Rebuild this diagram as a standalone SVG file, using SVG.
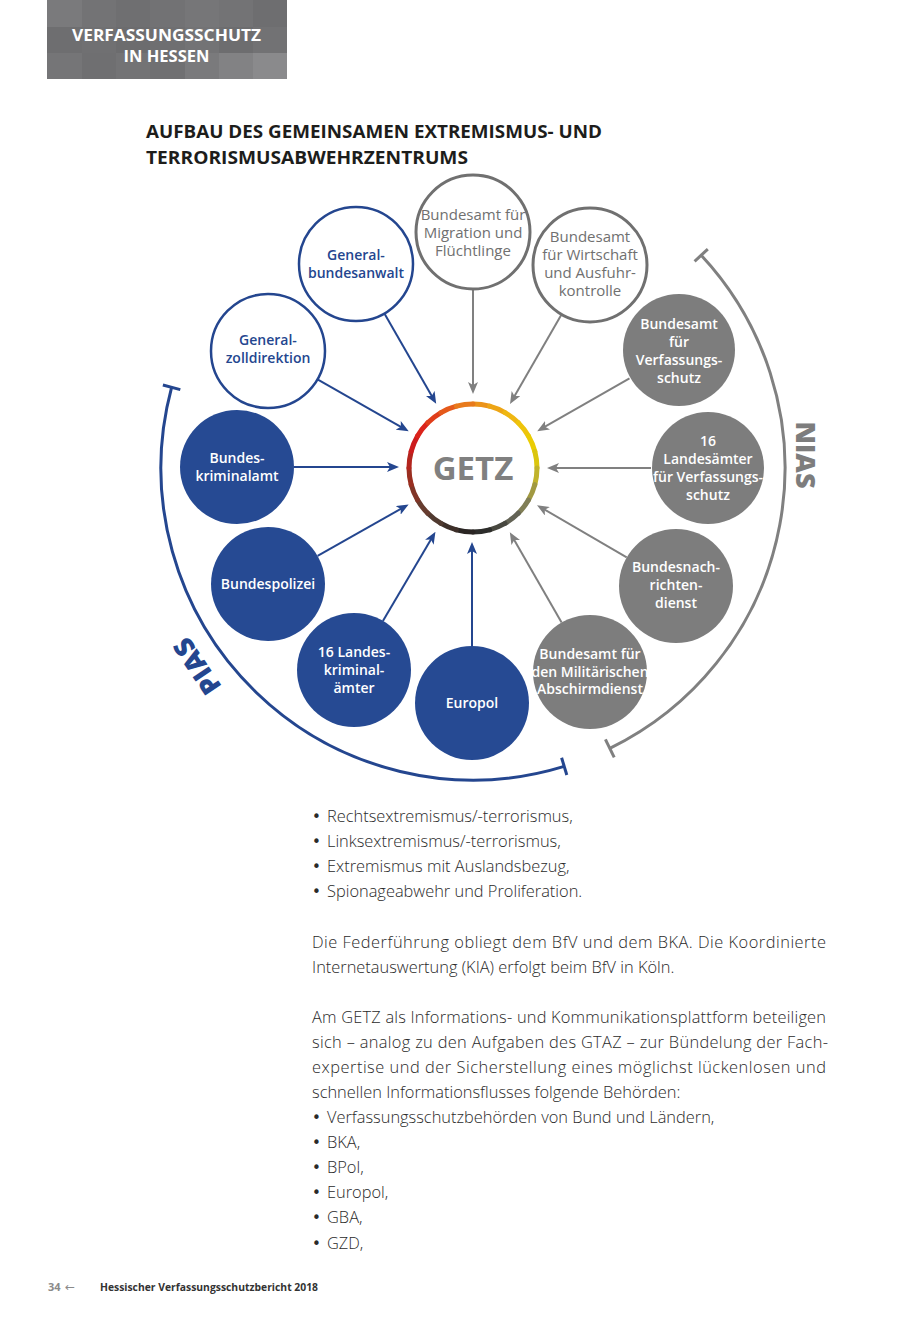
<svg xmlns="http://www.w3.org/2000/svg" width="900" height="1324" viewBox="0 0 900 1324">
<defs>
<style>
.hdr{font-family:'Open Sans','Liberation Sans',sans-serif;font-weight:700;font-size:16.5px;fill:#fff;text-anchor:middle}
.title{font-family:'Open Sans','Liberation Sans',sans-serif;font-weight:700;font-size:18.5px;fill:#1d1d1b}
.lb{font-family:'Open Sans','Liberation Sans',sans-serif;font-weight:600;font-size:14px;text-anchor:middle}
.w{fill:#fff}
.b{fill:#24468f}
.g{fill:#707070;font-weight:400;font-size:15px}
.nb{fill:#264a93}
.ng{fill:#7d7d7d}
.ob{fill:#fff;stroke:#24468f;stroke-width:2.5}
.og{fill:#fff;stroke:#707070;stroke-width:3}
.cb{stroke:#24468f;stroke-width:2;fill:none}
.cg{stroke:#808080;stroke-width:2;fill:none}
.body{font-family:'Open Sans','Liberation Sans',sans-serif;font-weight:300;font-size:16.4px;fill:#2a2a2a}
.bul{font-family:'DejaVu Sans',sans-serif;font-weight:400;font-size:15px;fill:#2a2a2a}
.foot{font-family:'Open Sans','Liberation Sans',sans-serif;font-weight:700;font-size:11px}
.ring path{fill:none;stroke-width:5;stroke-linecap:round}
</style>
<marker id="ab" markerUnits="userSpaceOnUse" markerWidth="12" markerHeight="10" refX="6" refY="5" orient="auto">
<path d="M0,0 L12,5 L0,10 L3,5 Z" fill="#24468f"/>
</marker>
<marker id="ag" markerUnits="userSpaceOnUse" markerWidth="12" markerHeight="10" refX="6" refY="5" orient="auto">
<path d="M0,0 L12,5 L0,10 L3,5 Z" fill="#808080"/>
</marker>
</defs>
<rect width="900" height="1324" fill="#fff"/>

<g id="header">
<rect x="47" y="0" width="240" height="79" fill="#737375"/>
<rect x="47" y="0" width="35" height="27" fill="#7a7a7c"/>
<rect x="82" y="0" width="34" height="27" fill="#737375"/>
<rect x="116" y="0" width="34" height="27" fill="#6f6f71"/>
<rect x="150" y="0" width="35" height="27" fill="#727274"/>
<rect x="185" y="0" width="34" height="27" fill="#767678"/>
<rect x="219" y="0" width="34" height="27" fill="#737375"/>
<rect x="253" y="0" width="34" height="27" fill="#6e6e70"/>
<rect x="47" y="27" width="35" height="26" fill="#6e6e70"/>
<rect x="82" y="27" width="34" height="26" fill="#707072"/>
<rect x="116" y="27" width="34" height="26" fill="#6c6c6e"/>
<rect x="150" y="27" width="35" height="26" fill="#6f6f71"/>
<rect x="185" y="27" width="34" height="26" fill="#737375"/>
<rect x="219" y="27" width="34" height="26" fill="#6d6d6f"/>
<rect x="253" y="27" width="34" height="26" fill="#727274"/>
<rect x="47" y="53" width="35" height="26" fill="#757577"/>
<rect x="82" y="53" width="34" height="26" fill="#6f6f71"/>
<rect x="116" y="53" width="34" height="26" fill="#737375"/>
<rect x="150" y="53" width="35" height="26" fill="#707072"/>
<rect x="185" y="53" width="34" height="26" fill="#7a7a7c"/>
<rect x="219" y="53" width="34" height="26" fill="#828284"/>
<rect x="253" y="53" width="34" height="26" fill="#8a8a8c"/>
<text class="hdr" x="166.5" y="41" textLength="189" lengthAdjust="spacingAndGlyphs">VERFASSUNGSSCHUTZ</text>
<text class="hdr" x="166.5" y="62">IN HESSEN</text>
</g>

<g id="title">
<text class="title" x="146" y="138" textLength="456" lengthAdjust="spacingAndGlyphs">AUFBAU DES GEMEINSAMEN EXTREMISMUS- UND</text>
<text class="title" x="146" y="164" textLength="322" lengthAdjust="spacingAndGlyphs">TERRORISMUSABWEHRZENTRUMS</text>
</g>

<g id="brackets">
<path d="M701.2,255.2 A312,312 0 0 1 609.8,748.4" fill="none" stroke="#808080" stroke-width="3"/>
<line x1="707.8" y1="249.1" x2="694.6" y2="261.3" stroke="#808080" stroke-width="3"/>
<line x1="614.2" y1="757.4" x2="605.4" y2="739.4" stroke="#808080" stroke-width="3"/>
<path d="M171.6,387.3 A312,312 0 0 0 564.2,766.4" fill="none" stroke="#24468f" stroke-width="3"/>
<line x1="180.3" y1="389.6" x2="162.9" y2="385.0" stroke="#24468f" stroke-width="3"/>
<line x1="566.8" y1="775" x2="561.6" y2="757.8" stroke="#24468f" stroke-width="3"/>
<text transform="translate(796,455) rotate(90)" text-anchor="middle" style="font-family:'Open Sans','Liberation Sans',sans-serif;font-weight:800;font-size:27px;fill:#7d7d7d">NIAS</text>
<text transform="translate(205,661) rotate(-124)" text-anchor="middle" style="font-family:'Open Sans','Liberation Sans',sans-serif;font-weight:800;font-size:27px;fill:#24468f">PIAS</text>
</g>

<g id="connectors">
<line class="cg" x1="473" y1="290" x2="473" y2="388" marker-end="url(#ag)"/>
<line class="cg" x1="561.5" y1="314.4" x2="513" y2="398.7" marker-end="url(#ag)"/>
<line class="cg" x1="629.5" y1="378.3" x2="542.4" y2="428.2" marker-end="url(#ag)"/>
<line class="cg" x1="651" y1="468" x2="553" y2="468" marker-end="url(#ag)"/>
<line class="cg" x1="626.7" y1="557.4" x2="542.2" y2="508.2" marker-end="url(#ag)"/>
<line class="cg" x1="561.6" y1="622.6" x2="512.8" y2="537.4" marker-end="url(#ag)"/>
<line class="cb" x1="472" y1="646" x2="472" y2="548" marker-end="url(#ab)"/>
<line class="cb" x1="382.9" y1="620.9" x2="432.4" y2="537" marker-end="url(#ab)"/>
<line class="cb" x1="317.6" y1="555.9" x2="403.4" y2="507.4" marker-end="url(#ab)"/>
<line class="cb" x1="294" y1="467" x2="393" y2="467" marker-end="url(#ab)"/>
<line class="cb" x1="317.5" y1="379.3" x2="403.5" y2="428.3" marker-end="url(#ab)"/>
<line class="cb" x1="384.4" y1="313.4" x2="433.2" y2="398.6" marker-end="url(#ab)"/>
</g>

<g id="getz">
<circle cx="473" cy="468" r="64" fill="#fff"/>
<g class="ring">
<path d="M473,404 A64,64 0 0 1 489.56,406.18" stroke="#eb931a"/>
<path d="M489.56,406.18 A64,64 0 0 1 505,412.57" stroke="#eda516"/>
<path d="M505,412.57 A64,64 0 0 1 518.25,422.75" stroke="#efb712"/>
<path d="M518.25,422.75 A64,64 0 0 1 528.43,436" stroke="#eec40c"/>
<path d="M528.43,436 A64,64 0 0 1 534.82,451.44" stroke="#eacc04"/>
<path d="M534.82,451.44 A64,64 0 0 1 537,468" stroke="#dbc60e"/>
<path d="M537,468 A64,64 0 0 1 534.82,484.56" stroke="#c0b32b"/>
<path d="M534.82,484.56 A64,64 0 0 1 528.43,500" stroke="#a19941"/>
<path d="M528.43,500 A64,64 0 0 1 518.25,513.25" stroke="#807e56"/>
<path d="M518.25,513.25 A64,64 0 0 1 505,523.43" stroke="#636355"/>
<path d="M505,523.43 A64,64 0 0 1 489.56,529.82" stroke="#484840"/>
<path d="M489.56,529.82 A64,64 0 0 1 473,532" stroke="#2d2d2b"/>
<path d="M473,532 A64,64 0 0 1 456.44,529.82" stroke="#2a2523"/>
<path d="M456.44,529.82 A64,64 0 0 1 441,523.43" stroke="#3d2f29"/>
<path d="M441,523.43 A64,64 0 0 1 427.75,513.25" stroke="#503a30"/>
<path d="M427.75,513.25 A64,64 0 0 1 417.57,500" stroke="#673c2f"/>
<path d="M417.57,500 A64,64 0 0 1 411.18,484.56" stroke="#813527"/>
<path d="M411.18,484.56 A64,64 0 0 1 409,468" stroke="#9a2e20"/>
<path d="M409,468 A64,64 0 0 1 411.18,451.44" stroke="#b3251e"/>
<path d="M411.18,451.44 A64,64 0 0 1 417.57,436" stroke="#cc1b1d"/>
<path d="M417.57,436 A64,64 0 0 1 427.75,422.75" stroke="#db231b"/>
<path d="M427.75,422.75 A64,64 0 0 1 441,412.57" stroke="#e03d1a"/>
<path d="M441,412.57 A64,64 0 0 1 456.44,406.18" stroke="#e55a1b"/>
<path d="M456.44,406.18 A64,64 0 0 1 473,404" stroke="#e87a1c"/>
</g>
<text x="473" y="480" text-anchor="middle" style="font-family:'Open Sans','Liberation Sans',sans-serif;font-weight:700;font-size:33px;fill:#808080">GETZ</text>
</g>

<g id="bamf">
<circle class="og" cx="473" cy="232" r="57"/>
<text class="lb g" x="473" y="219.5">Bundesamt für</text>
<text class="lb g" x="473" y="237.5">Migration und</text>
<text class="lb g" x="473" y="255.5">Flüchtlinge</text>
</g>
<g id="bafa">
<circle class="og" cx="590" cy="265" r="57"/>
<text class="lb g" x="590" y="242">Bundesamt</text>
<text class="lb g" x="590" y="260">für Wirtschaft</text>
<text class="lb g" x="590" y="278">und Ausfuhr-</text>
<text class="lb g" x="590" y="296">kontrolle</text>
</g>
<g id="bfv">
<circle class="ng" cx="679" cy="350" r="56"/>
<text class="lb w" x="679" y="329">Bundesamt</text>
<text class="lb w" x="679" y="347">für</text>
<text class="lb w" x="679" y="365">Verfassungs-</text>
<text class="lb w" x="679" y="383">schutz</text>
</g>
<g id="lfv">
<circle class="ng" cx="708" cy="468" r="56"/>
<text class="lb w" x="708" y="446">16</text>
<text class="lb w" x="708" y="464">Landesämter</text>
<text class="lb w" x="708" y="482">für Verfassungs-</text>
<text class="lb w" x="708" y="500">schutz</text>
</g>
<g id="bnd">
<circle class="ng" cx="676" cy="586" r="57"/>
<text class="lb w" x="676" y="572">Bundesnach-</text>
<text class="lb w" x="676" y="590">richten-</text>
<text class="lb w" x="676" y="608">dienst</text>
</g>
<g id="mad">
<circle class="ng" cx="590" cy="672" r="57"/>
<text class="lb w" x="590" y="659">Bundesamt für</text>
<text class="lb w" x="590" y="677">den Militärischen</text>
<text class="lb w" x="590" y="694">Abschirmdienst</text>
</g>
<g id="europol">
<circle class="nb" cx="472" cy="703" r="57"/>
<text class="lb w" x="472" y="708">Europol</text>
</g>
<g id="lka">
<circle class="nb" cx="354" cy="670" r="57"/>
<text class="lb w" x="354" y="657">16 Landes-</text>
<text class="lb w" x="354" y="675">kriminal-</text>
<text class="lb w" x="354" y="693">ämter</text>
</g>
<g id="bpol">
<circle class="nb" cx="268" cy="584" r="57"/>
<text class="lb w" x="268" y="589">Bundespolizei</text>
</g>
<g id="bka">
<circle class="nb" cx="237" cy="467" r="57"/>
<text class="lb w" x="237" y="463">Bundes-</text>
<text class="lb w" x="237" y="481">kriminalamt</text>
</g>
<g id="gzd">
<circle class="ob" cx="268" cy="351" r="57"/>
<text class="lb b" x="268" y="345">General-</text>
<text class="lb b" x="268" y="363">zolldirektion</text>
</g>
<g id="gba">
<circle class="ob" cx="356" cy="264" r="57"/>
<text class="lb b" x="356" y="260">General-</text>
<text class="lb b" x="356" y="278">bundesanwalt</text>
</g>

<g id="bodytext" class="body">
<text class="bul" x="312" y="822">•</text><text x="327" y="822">Rechtsextremismus/-terrorismus,</text>
<text class="bul" x="312" y="847">•</text><text x="327" y="847">Linksextremismus/-terrorismus,</text>
<text class="bul" x="312" y="872">•</text><text x="327" y="872">Extremismus mit Auslandsbezug,</text>
<text class="bul" x="312" y="897">•</text><text x="327" y="897">Spionageabwehr und Proliferation.</text>
<text x="312" y="948" textLength="514" lengthAdjust="spacing">Die Federführung obliegt dem BfV und dem BKA. Die Koordinierte</text>
<text x="312" y="973">Internetauswertung (KIA) erfolgt beim BfV in Köln.</text>
<text x="312" y="1023" textLength="514" lengthAdjust="spacing">Am GETZ als Informations- und Kommunikationsplattform beteiligen</text>
<text x="312" y="1048" textLength="516" lengthAdjust="spacing">sich – analog zu den Aufgaben des GTAZ – zur Bündelung der Fach-</text>
<text x="312" y="1073" textLength="514" lengthAdjust="spacing">expertise und der Sicherstellung eines möglichst lückenlosen und</text>
<text x="312" y="1098">schnellen Informationsflusses folgende Behörden:</text>
<text class="bul" x="312" y="1123">•</text><text x="327" y="1123">Verfassungsschutzbehörden von Bund und Ländern,</text>
<text class="bul" x="312" y="1148">•</text><text x="327" y="1148">BKA,</text>
<text class="bul" x="312" y="1173">•</text><text x="327" y="1173">BPol,</text>
<text class="bul" x="312" y="1198">•</text><text x="327" y="1198">Europol,</text>
<text class="bul" x="312" y="1223">•</text><text x="327" y="1223">GBA,</text>
<text class="bul" x="312" y="1249">•</text><text x="327" y="1249">GZD,</text>
</g>

<g id="footer">
<text class="foot" x="48" y="1291" fill="#8a8a8a">34</text>
<text x="65" y="1291" fill="#8a8a8a" style="font-family:'DejaVu Sans',sans-serif;font-size:12px">←</text>
<text class="foot" x="100" y="1291" fill="#333" textLength="218" lengthAdjust="spacingAndGlyphs">Hessischer Verfassungsschutzbericht 2018</text>
</g>
</svg>
